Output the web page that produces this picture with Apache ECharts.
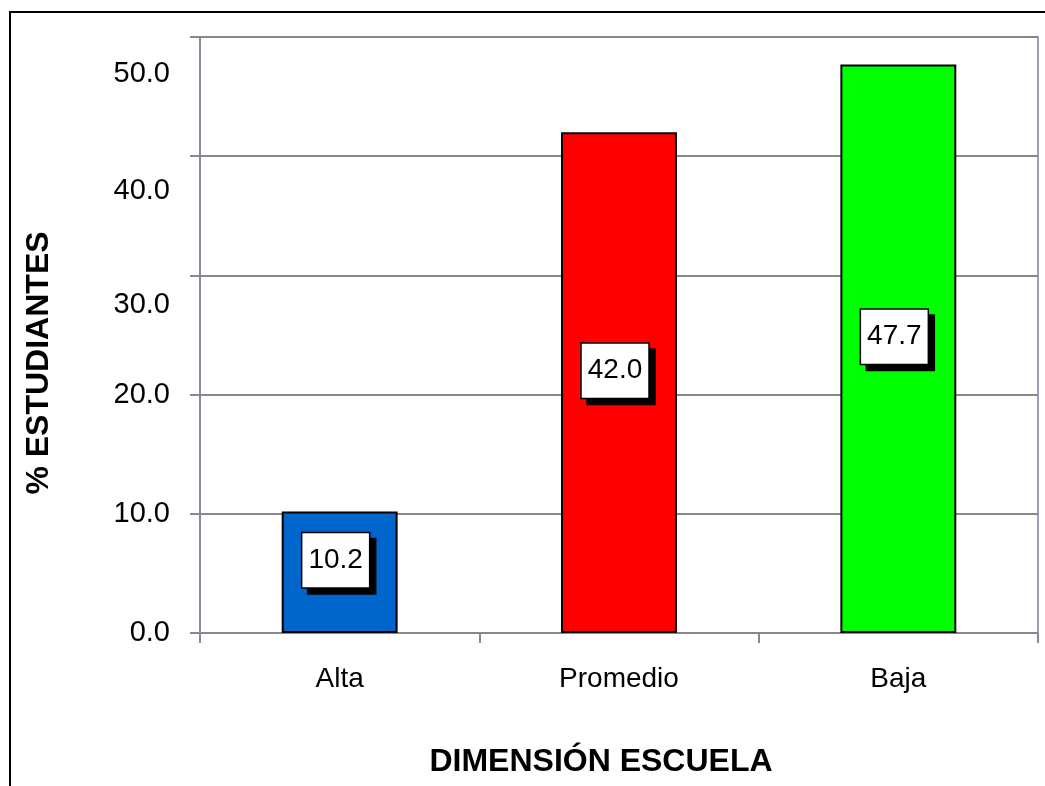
<!DOCTYPE html>
<html>
<head>
<meta charset="utf-8">
<script src="https://cdn.jsdelivr.net/npm/echarts@6/dist/echarts.min.js"></script>
<style>
html,body{margin:0;padding:0;background:#fff;}
#chart{width:1045px;height:786px;}
</style>
</head>
<body>
<div id="chart"></div>
<script>
var categories = ['Alta', 'Promedio', 'Baja'];
var values = [10.2, 42.0, 47.7];
var barColors = ['#0066CC', '#FF0000', '#00FF00'];
var yTicks = [0, 10, 20, 30, 40, 50];
var xTitle = 'DIMENSIÓN ESCUELA';
var yTitle = '% ESTUDIANTES';

var FONT = '"Liberation Sans", Arial, sans-serif';
var chart = echarts.init(document.getElementById('chart'));

// label vertical shifts as seen in the reference (top labels drawn lower)
var labelShift = {50: 37, 40: 35, 30: 30};
var rich = {};
yTicks.forEach(function (t) {
  var s = labelShift[t] || 0;
  rich['v' + t] = {
    fontSize: 29, fontFamily: FONT, color: '#000',
    padding: [s * 2, 0, 0, 0]
  };
});

var option = {
  animation: false,
  backgroundColor: '#fff',
  grid: {left: 200, right: 7, top: 37, bottom: 153, show: true,
         borderColor: '#7f7f9f', borderWidth: 1.5, containLabel: false},
  xAxis: {
    type: 'category',
    data: categories,
    axisLine: {show: true, lineStyle: {color: '#888890', width: 2}},
    axisTick: {show: true, length: 10, lineStyle: {color: '#888890', width: 2}},
    axisLabel: {fontSize: 28, fontFamily: FONT, color: '#000', margin: 32}
  },
  yAxis: {
    type: 'value',
    min: yTicks[0], max: yTicks[yTicks.length - 1], interval: 10,
    axisLine: {show: true, lineStyle: {color: '#888898', width: 2}},
    axisTick: {show: true, length: 10, lineStyle: {color: '#888890', width: 2}},
    splitLine: {show: true, lineStyle: {color: '#888888', width: 2}},
    axisLabel: {
      margin: 30,
      formatter: function (v) { return '{v' + v + '|' + v.toFixed(1) + '}'; },
      rich: rich
    }
  },
  series: [{
    type: 'bar',
    barWidth: '41.5%',
    data: values.map(function (v, i) {
      return {value: v, itemStyle: {color: barColors[i]}};
    }),
    itemStyle: {borderColor: '#000', borderWidth: 2},
    label: {
      show: true,
      position: 'inside',
      offset: [-4, -12],
      formatter: function (p) { return p.value.toFixed(1); },
      fontSize: 28, fontFamily: FONT, color: '#000',
      lineHeight: 32,
      backgroundColor: '#fff',
      borderColor: '#000', borderWidth: 1.5,
      padding: [11, 6, 11, 6],
      shadowColor: '#000', shadowOffsetX: 6, shadowOffsetY: 6, shadowBlur: 0
    }
  }],
  graphic: [
    {type: 'rect', z: -1, silent: true,
     shape: {x: 10, y: 12, width: 1200, height: 900},
     style: {fill: 'none', stroke: '#000', lineWidth: 2}},
    {type: 'text', silent: true, x: 601, y: 762,
     style: {text: xTitle, font: 'bold 32px ' + FONT, fill: '#000',
             textAlign: 'center', textVerticalAlign: 'middle'}},
    {type: 'text', silent: true, x: 39, y: 363, rotation: Math.PI / 2,
     style: {text: yTitle, font: 'bold 32px ' + FONT, fill: '#000',
             textAlign: 'center', textVerticalAlign: 'middle'}}
  ]
};
chart.setOption(option);
</script>
</body>
</html>
